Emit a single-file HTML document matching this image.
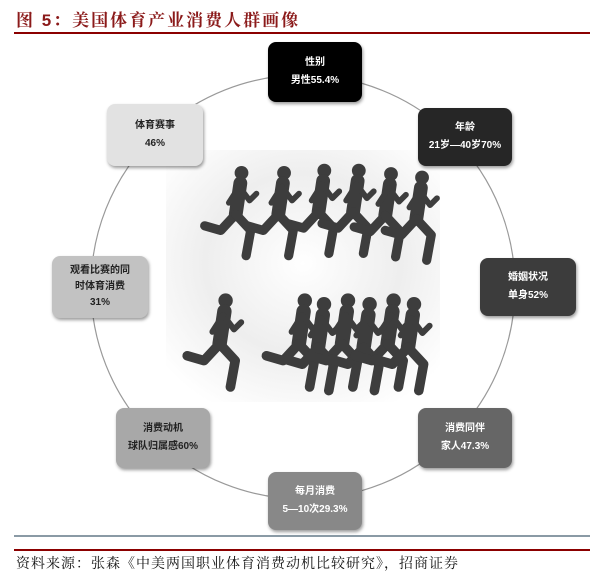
<!DOCTYPE html>
<html><head><meta charset="utf-8"><style>
body{margin:0;width:602px;height:578px;background:#fff;position:relative;overflow:hidden;font-family:"Liberation Sans","Noto Sans CJK SC",sans-serif}
.t{position:absolute;left:16px;top:6px;font-size:17px;font-weight:bold;color:#8b1a1a;letter-spacing:2px;font-family:"Liberation Sans","Noto Serif CJK SC",serif}
.box{position:absolute;border-radius:8px;box-shadow:1px 2px 3px rgba(0,0,0,.4);display:flex;flex-direction:column;justify-content:center;align-items:center;font-size:10px;font-weight:bold;line-height:18px;text-align:center}
.w{color:#fff}.d{color:#222}
</style></head><body>
<div class="t">图 5：美国体育产业消费人群画像</div>
<div style="position:absolute;left:14px;top:32px;width:576px;height:2px;background:#8b0000"></div>
<svg width="602" height="578" style="position:absolute;left:0;top:0">
<defs>
<radialGradient id="g" cx="50%" cy="45%" r="65%"><stop offset="0" stop-color="#fff"/><stop offset="0.55" stop-color="#eee"/><stop offset="1" stop-color="#fff"/></radialGradient>
<g id="r" fill="none" stroke="#3d3d3d" stroke-linecap="round" stroke-linejoin="round">
<circle cx="2" cy="-34" r="6" fill="#3d3d3d" stroke="none"/>
<path d="M1-25 L-3 2" stroke-width="12"/>
<path d="M-3 2 L-16 16 L-30 12" stroke-width="8"/>
<path d="M-3 2 L10 16 L6 38" stroke-width="8"/>
<path d="M0-22 L9-10 L15-16" stroke-width="5"/>
<path d="M0-22 L-9-8" stroke-width="5"/>
</g>
</defs>
<circle cx="303" cy="287" r="212" fill="none" stroke="#999" stroke-width="1.2"/>
<rect x="166" y="150" width="274" height="252" fill="url(#g)"/>
<g transform="translate(0,212) scale(1.15) translate(0,-212)">
<use href="#r" x="208" y="212"/><use href="#r" x="245" y="212"/><use href="#r" x="280" y="210"/><use href="#r" x="310" y="210"/><use href="#r" x="338" y="213"/><use href="#r" x="365" y="216"/>
</g>
<g transform="translate(0,345) scale(1.2) translate(0,-345)">
<use href="#r" x="186" y="342"/>
<use href="#r" x="252" y="342"/><use href="#r" x="268" y="345"/><use href="#r" x="288" y="342"/><use href="#r" x="306" y="345"/><use href="#r" x="326" y="342"/><use href="#r" x="343" y="345"/>
</g>
</svg>
<div class="box w" style="left:268px;top:42px;width:94px;height:60px;background:#000">性别<br>男性55.4%</div>
<div class="box w" style="left:418px;top:108px;width:94px;height:58px;background:#262626">年龄<br>21岁—40岁70%</div>
<div class="box w" style="left:480px;top:258px;width:96px;height:58px;background:#3c3c3c">婚姻状况<br>单身52%</div>
<div class="box w" style="left:418px;top:408px;width:94px;height:60px;background:#666">消费同伴<br>家人47.3%</div>
<div class="box w" style="left:268px;top:472px;width:94px;height:58px;background:#888">每月消费<br>5—10次29.3%</div>
<div class="box d" style="left:116px;top:408px;width:94px;height:60px;background:#a8a8a8">消费动机<br>球队归属感60%</div>
<div class="box d" style="left:52px;top:256px;width:96px;height:62px;background:#c2c2c2;line-height:16px">观看比赛的同<br>时体育消费<br>31%</div>
<div class="box d" style="left:107px;top:104px;width:96px;height:62px;background:#e2e2e2">体育赛事<br>46%</div>
<div style="position:absolute;left:14px;top:535px;width:576px;height:2px;background:#8a9aa5"></div>
<div style="position:absolute;left:14px;top:549px;width:576px;height:2px;background:#8b0000"></div>
<div style="position:absolute;left:16px;top:553px;font-size:14px;color:#111;letter-spacing:1px;font-family:'Liberation Serif','Noto Serif CJK SC',serif">资料来源：张森《中美两国职业体育消费动机比较研究》，招商证券</div>
</body></html>
